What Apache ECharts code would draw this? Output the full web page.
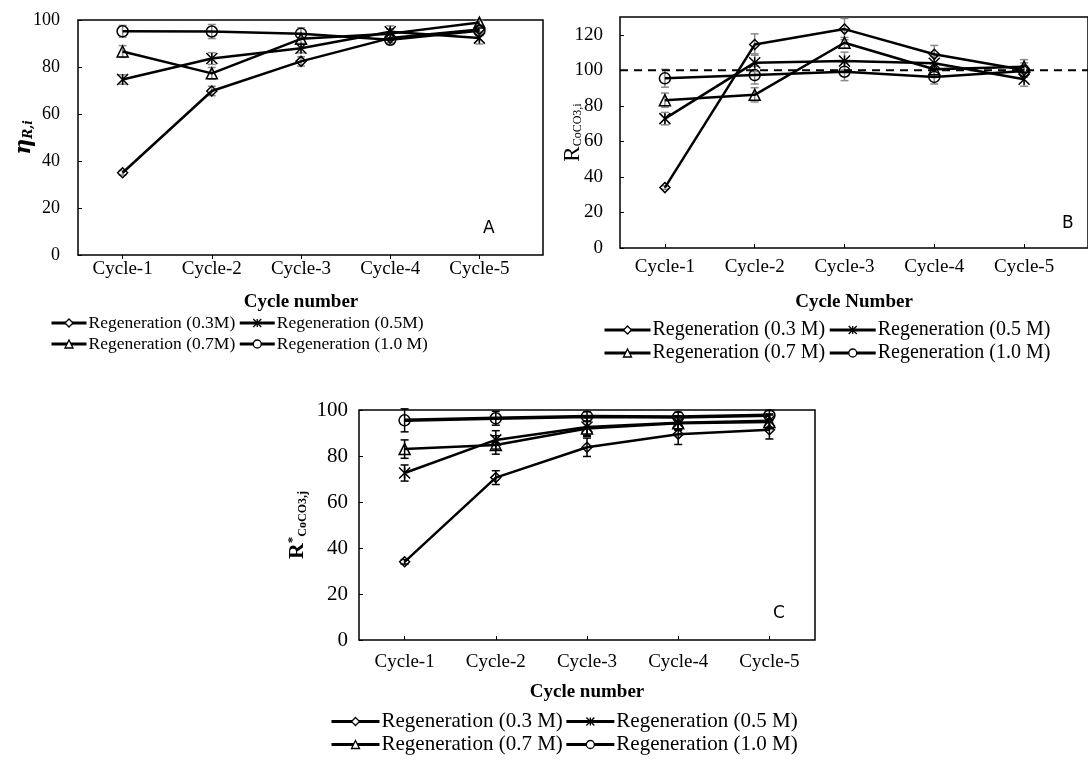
<!DOCTYPE html>
<html>
<head>
<meta charset="utf-8">
<script src="https://cdn.jsdelivr.net/npm/echarts@6/dist/echarts.min.js"></script>
<style>
  html, body { margin: 0; padding: 0; background: #fff; }
  #main { width: 1088px; height: 764px; }
</style>
</head>
<body>
<div id="main"></div>
<script>
// categories
var cycles = ['Cycle-1', 'Cycle-2', 'Cycle-3', 'Cycle-4', 'Cycle-5'];

// panel A - eta R,i
var namesA = ['Regeneration (0.3M)', 'Regeneration (0.5M)', 'Regeneration (0.7M)', 'Regeneration (1.0 M)'];
var a03 = [35.0, 69.8, 82.4, 92.3, 96.0];
var a05 = [74.7, 83.6, 88.0, 95.0, 92.3];
var a07 = [86.6, 77.3, 92.0, 94.2, 98.9];
var a10 = [95.2, 95.1, 94.2, 91.6, 95.4];
var a03err = [1.0, 2.0, 2.0, 2.0, 2.0];
var a05err = [2.0, 2.5, 2.0, 2.5, 2.5];
var a07err = [2.5, 2.5, 2.0, 2.0, 1.0];
var a10err = [2.5, 3.0, 2.5, 2.0, 2.0];

// panel B - R CoCO3,i
var namesBC = ['Regeneration (0.3 M)', 'Regeneration (0.5 M)', 'Regeneration (0.7 M)', 'Regeneration (1.0 M)'];
var b03 = [34.0, 114.5, 123.2, 109.0, 100.2];
var b05 = [72.8, 104.3, 105.2, 104.0, 95.0];
var b07 = [83.2, 86.2, 115.5, 100.6, 102.0];
var b10 = [95.5, 97.3, 99.2, 96.3, 99.6];
var b03err = [1.0, 6.0, 6.0, 5.0, 4.0];
var b05err = [3.5, 5.0, 5.0, 4.0, 4.0];
var b07err = [4.0, 4.0, 3.0, 3.0, 4.0];
var b10err = [5.0, 5.0, 5.0, 4.0, 3.0];
var bRef = 100;

// panel C - R* CoCO3,j
var c03 = [34.0, 70.6, 83.8, 89.5, 91.4];
var c05 = [72.6, 87.0, 92.6, 94.5, 95.3];
var c07 = [83.0, 84.8, 92.0, 94.2, 94.8];
var c10 = [95.5, 96.4, 97.2, 97.0, 97.7];
var c03err = [1.0, 3.0, 4.0, 4.5, 4.0];
var c05err = [3.5, 4.0, 4.0, 3.0, 3.0];
var c07err = [4.0, 4.0, 3.0, 3.0, 3.0];
var c10err = [5.0, 3.0, 2.0, 2.0, 2.0];

var serif = 'Liberation Serif';
var starPath = 'path://M0,0L10,10M0,10L10,0M5,0L5,10';
var symbols = ['diamond', starPath, 'triangle', 'circle'];
var sizes = [10, 11, 11, 11];

function errData(vals, errs) {
    var out = [];
    for (var i = 0; i < vals.length; i++) {
        out.push([i, vals[i] - errs[i], vals[i] + errs[i]]);
    }
    return out;
}

function errSeries(g, vals, errs, color) {
    return {
        type: 'custom',
        xAxisIndex: g, yAxisIndex: g,
        data: errData(vals, errs),
        silent: true,
        z: 1,
        renderItem: function (params, api) {
            var lo = api.coord([api.value(0), api.value(1)]);
            var hi = api.coord([api.value(0), api.value(2)]);
            var st = { stroke: color, lineWidth: 1.5 };
            return {
                type: 'group',
                children: [
                    { type: 'line', shape: { x1: lo[0], y1: lo[1], x2: hi[0], y2: hi[1] }, style: st },
                    { type: 'line', shape: { x1: lo[0] - 4, y1: lo[1], x2: lo[0] + 4, y2: lo[1] }, style: st },
                    { type: 'line', shape: { x1: hi[0] - 4, y1: hi[1], x2: hi[0] + 4, y2: hi[1] }, style: st }
                ]
            };
        }
    };
}

function lineSeries(g, name, vals, k, width) {
    return {
        type: 'line',
        name: name,
        xAxisIndex: g, yAxisIndex: g,
        data: vals,
        symbol: symbols[k],
        symbolSize: sizes[k],
        z: 3,
        lineStyle: { color: '#000', width: width || 2.5 },
        itemStyle: { color: 'none', borderColor: '#000', borderWidth: 1.5 }
    };
}

var catAxis = function (g, tickInside, margin, nameTxt, gap) {
    return {
        type: 'category', gridIndex: g, data: cycles,
        boundaryGap: true,
        axisLine: { show: false },
        axisTick: { show: true, alignWithLabel: true, inside: tickInside, length: 4, lineStyle: { color: '#000' } },
        axisLabel: { color: '#000', fontFamily: serif, fontSize: 19, margin: margin },
        name: nameTxt, nameLocation: 'middle', nameGap: gap, nameMoveOverlap: false,
        nameTextStyle: { color: '#000', fontFamily: serif, fontSize: 19, fontWeight: 'bold' }
    };
};

var valAxis = function (g, max, fs, margin, name, rich, gap) {
    return {
        type: 'value', gridIndex: g, min: 0, max: max, interval: 20,
        axisLine: { show: false },
        splitLine: { show: false },
        axisTick: { show: true, inside: true, length: 4, lineStyle: { color: '#000' } },
        axisLabel: { color: '#000', fontFamily: serif, fontSize: fs, margin: margin, showMaxLabel: max === 100 },
        name: name, nameLocation: 'middle', nameRotate: 90, nameGap: gap, nameMoveOverlap: false,
        nameTextStyle: { color: '#000', fontFamily: serif, rich: rich }
    };
};

var hidden = function (g, type, min, max) {
    return { type: type, gridIndex: g, min: min, max: max, show: false };
};

var legendBox = function (names, left, top, width, iw, fs, gap) {
    return {
        data: names, left: left, top: top, width: width, padding: 0,
        itemGap: gap, itemWidth: iw, itemHeight: 10,
        selectedMode: false,
        lineStyle: { color: '#000', width: 3 },
        itemStyle: { color: '#fff', borderColor: '#000', borderWidth: 1.3 },
        textStyle: { fontFamily: serif, fontSize: fs, color: '#000', padding: [0, 0, 0, -3] }
    };
};

var gray = '#8a8a8a';
var series = [];
// errors first so lines sit over them
[[a03, a03err], [a05, a05err], [a07, a07err], [a10, a10err]].forEach(function (p) { series.push(errSeries(0, p[0], p[1], gray)); });
[[b03, b03err], [b05, b05err], [b07, b07err], [b10, b10err]].forEach(function (p) { series.push(errSeries(2, p[0], p[1], gray)); });
[[c03, c03err], [c05, c05err], [c07, c07err], [c10, c10err]].forEach(function (p) { series.push(errSeries(4, p[0], p[1], '#000')); });

[a03, a05, a07, a10].forEach(function (v, k) { series.push(lineSeries(0, namesA[k], v, k)); });
[b03, b05, b07, b10].forEach(function (v, k) { series.push(lineSeries(2, namesBC[k], v, k)); });
[c03, c05, c07, c10].forEach(function (v, k) { series.push(lineSeries(4, namesBC[k], v, k, k === 3 ? 3.5 : 2.5)); });

// dashed 100% reference line across panel B frame
series.push({
    type: 'line', xAxisIndex: 3, yAxisIndex: 3,
    data: [[0, bRef], [1, bRef]],
    symbol: 'none', silent: true, z: 2,
    lineStyle: { color: '#000', width: 2, type: [8, 6] }
});

var chart = echarts.init(document.getElementById('main'));
chart.setOption({
    backgroundColor: '#fff',
    animation: false,
    title: [
        { text: 'A', left: 483, top: 220, padding: 0, textStyle: { fontFamily: 'DejaVu Sans', fontSize: 17, fontWeight: 'normal', color: '#000' } },
        { text: 'B', left: 1062, top: 215, padding: 0, textStyle: { fontFamily: 'DejaVu Sans', fontSize: 17, fontWeight: 'normal', color: '#000' } },
        { text: 'C', left: 773, top: 605, padding: 0, textStyle: { fontFamily: 'DejaVu Sans', fontSize: 17, fontWeight: 'normal', color: '#000' } }
    ],
    grid: [
        { left: 78, top: 20, width: 446, height: 235 },
        { left: 78, top: 20, width: 465, height: 235, show: true, borderColor: '#000', borderWidth: 1.5, backgroundColor: 'transparent' },
        { left: 620, top: 17, width: 449, height: 231 },
        { left: 620, top: 17, width: 520, height: 231, show: true, borderColor: '#000', borderWidth: 1.5, backgroundColor: 'transparent' },
        { left: 359, top: 410, width: 456, height: 230, show: true, borderColor: '#000', borderWidth: 1.5, backgroundColor: 'transparent' }
    ],
    xAxis: [
        catAxis(0, false, 5, 'Cycle number', 38),
        hidden(1, 'value', 0, 1),
        catAxis(2, true, 10, '', 0),
        {
            type: 'value', gridIndex: 3, min: 0, max: 1,
            axisLine: { show: false }, axisTick: { show: false }, axisLabel: { show: false }, splitLine: { show: false },
            name: 'Cycle Number', nameLocation: 'middle', nameGap: 45, nameMoveOverlap: false,
            nameTextStyle: { color: '#000', fontFamily: serif, fontSize: 19, fontWeight: 'bold' }
        },
        catAxis(4, true, 13, 'Cycle number', 43)
    ],
    yAxis: [
        valAxis(0, 100, 18, 18, '{e|η}{s|R,i}', {
            e: { fontFamily: 'DejaVu Serif', fontSize: 22, fontWeight: 'bold', fontStyle: 'italic', color: '#000' },
            s: { fontFamily: 'DejaVu Serif', fontSize: 12, fontWeight: 'bold', fontStyle: 'italic', color: '#000', padding: [10, 0, 0, 0] }
        }, 43),
        hidden(1, 'value', 0, 100),
        valAxis(2, 130, 19, 17, '{r|R}{s|CoCO3,i}', {
            r: { fontFamily: serif, fontSize: 23, color: '#000' },
            s: { fontFamily: serif, fontSize: 12, color: '#000', padding: [10, 0, 0, 0] }
        }, 36),
        hidden(3, 'value', 0, 130),
        valAxis(4, 100, 21, 11, '{r|R}{p|*}{s|CoCO3,j}', {
            r: { fontFamily: serif, fontSize: 22, fontWeight: 'bold', color: '#000' },
            p: { fontFamily: serif, fontSize: 13, fontWeight: 'bold', color: '#000', padding: [0, 0, 10, 0] },
            s: { fontFamily: serif, fontSize: 12, fontWeight: 'bold', color: '#000', padding: [10, 0, 0, 0] }
        }, 50)
    ],
    legend: [
        legendBox(namesA, 50, 314, 380, 35, 17.5, 3),
        legendBox(namesBC, 603, 320, 470, 46, 20, 3),
        legendBox(namesBC, 330, 711, 490, 48, 21, 2)
    ],
    series: series
});
</script>
</body>
</html>
